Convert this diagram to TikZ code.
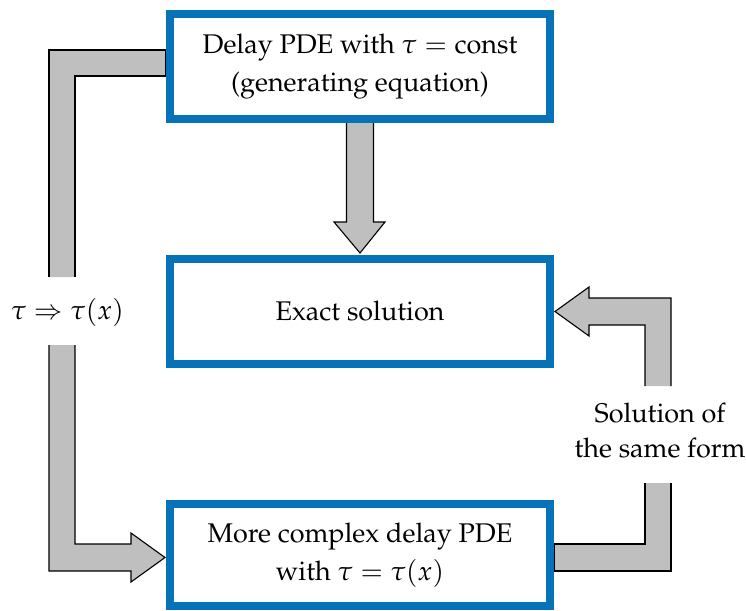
\documentclass[tikz,border=0pt]{standalone}
\usepackage[T1]{fontenc}
\usepackage{mathpazo}
\usetikzlibrary{backgrounds}
\definecolor{boxblue}{RGB}{6,115,184}
\definecolor{arrowgray}{RGB}{191,191,191}
\tikzset{
  stagebox/.style={draw=boxblue, line width=8pt, fill=white, inner sep=0pt,
    minimum width=380pt, align=center, font=\fontsize{27}{37.5}\selectfont},
  blockfill/.style={fill=arrowgray, draw=none},
  blockline/.style={draw=black, line width=1.1pt, line join=miter},
  sidelabel/.style={align=center, inner sep=0pt, font=\fontsize{27}{35}\selectfont}
}
\begin{document}
\begin{tikzpicture}[x=1pt, y=-1pt]
\useasboundingbox (0,0) rectangle (746,610);

% the three stages
\node[stagebox, minimum height=105pt] (gen) at (360,66.5)
  {Delay PDE with $\tau = \mathrm{const}$\\(generating equation)};
\node[stagebox, minimum height=105pt] (exact) at (360,311.5) {Exact solution};
\node[stagebox, minimum height=102pt] (cplx) at (360,555)
  {More complex delay PDE\\with $\tau = \tau(x)$};

% labels sitting in the gaps of the side arrows
\node[sidelabel] (subst) at (67.5,312) {$\tau \Rightarrow \tau(x)$};
\node[sidelabel] (same) at (660,431) {Solution of\\the same form};

\begin{scope}[on background layer]
  % generating equation -> exact solution
  \begin{scope}[shift={(gen.south)}]
    \path[blockfill] (-13.5,0) -- (-13.5,99) -- (-26,99) -- (0,130) -- (25,99)
      -- (13.5,99) -- (13.5,0) -- cycle;
    \path[blockline] (-13.5,0) -- (-13.5,99) -- (-26,99) -- (0,130) -- (25,99)
      -- (13.5,99) -- (13.5,0);
  \end{scope}

  % generating equation -> substitution (upper half)
  \begin{scope}[shift={(gen.west)}]
    \path[blockfill] (0,-16.5) -- (-117,-16.5) -- (-117,210.5) -- (-91,210.5)
      -- (-91,9.5) -- (0,9.5) -- cycle;
    \path[blockline] (-91,210.5) -- (-91,9.5) -- (0,9.5) -- (0,-16.5)
      -- (-117,-16.5) -- (-117,210.5);
  \end{scope}

  % substitution -> more complex delay PDE (lower half)
  \begin{scope}[shift={(cplx.west)}]
    \path[blockfill] (-91,-210) -- (-91,-11) -- (-35,-11) -- (-35,-22) -- (-1,2.5)
      -- (-35,27) -- (-35,16) -- (-117,16) -- (-117,-210) -- cycle;
    \path[blockline] (-91,-210) -- (-91,-11) -- (-35,-11) -- (-35,-22) -- (-1,2.5)
      -- (-35,27) -- (-35,16) -- (-117,16) -- (-117,-210);
  \end{scope}

  % more complex delay PDE -> same form (lower half)
  \begin{scope}[shift={(cplx.east)}]
    \path[blockfill] (0,-11) -- (91,-11) -- (91,-72) -- (117,-72) -- (117,16)
      -- (0,16) -- cycle;
    \path[blockline] (91,-72) -- (91,-11) -- (0,-11) -- (0,16) -- (117,16) -- (117,-72);
  \end{scope}

  % same form -> exact solution (upper half)
  \begin{scope}[shift={(exact.east)}]
    \path[blockfill] (1,0) -- (35,-24.5) -- (35,-13.5) -- (117,-13.5) -- (117,74.5)
      -- (91,74.5) -- (91,13.5) -- (35,13.5) -- (35,24.5) -- cycle;
    \path[blockline] (117,74.5) -- (117,-13.5) -- (35,-13.5) -- (35,-24.5) -- (1,0)
      -- (35,24.5) -- (35,13.5) -- (91,13.5) -- (91,74.5);
  \end{scope}
\end{scope}
\end{tikzpicture}
\end{document}
